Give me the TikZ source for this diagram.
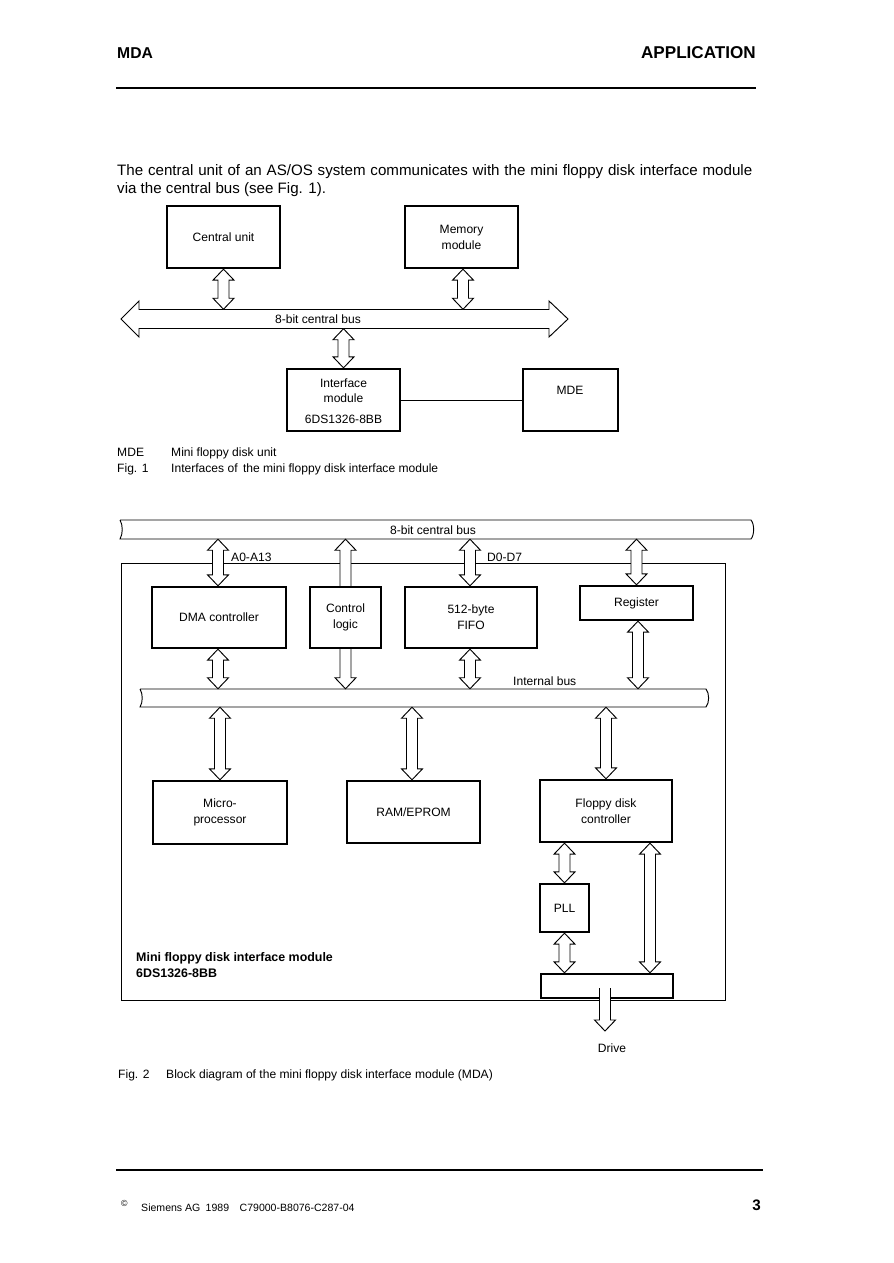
\documentclass[tikz,border=0pt]{standalone}
\usepackage{fontspec}
\setmainfont{Liberation Sans}
\usetikzlibrary{calc,fit}
\def\hw{0.315cm}\def\sw{0.165cm}\def\hl{0.33cm}
\newcommand\vdarrow[2]{\draw[arr] let \p1=#1, \p2=#2 in
 (\x1,\y1) -- (\x1-\hw,\y1-\hl) -- (\x1-\sw,\y1-\hl) -- (\x1-\sw,\y2+\hl) -- (\x1-\hw,\y2+\hl) -- (\x1,\y2) -- (\x1+\hw,\y2+\hl) -- (\x1+\sw,\y2+\hl) -- (\x1+\sw,\y1-\hl) -- (\x1+\hw,\y1-\hl) -- cycle;}
\newcommand\uparr[2]{\draw[arr] let \p1=#1, \p2=#2 in
 (\x1-\sw,\y2) -- (\x1-\sw,\y1-\hl) -- (\x1-\hw,\y1-\hl) -- (\x1,\y1) -- (\x1+\hw,\y1-\hl) -- (\x1+\sw,\y1-\hl) -- (\x1+\sw,\y2);}
\newcommand\downarr[2]{\draw[arr] let \p1=#1, \p2=#2 in
 (\x1-\sw,\y1) -- (\x1-\sw,\y2+\hl) -- (\x1-\hw,\y2+\hl) -- (\x1,\y2) -- (\x1+\hw,\y2+\hl) -- (\x1+\sw,\y2+\hl) -- (\x1+\sw,\y1);}
\newcommand\pipe[4]{% x1 x2 top bottom
 \draw[pipeline] (#1,#3) -- (#2-2,#3) .. controls (#2+1.5,#3+4) and (#2+1.5,#4-4) .. (#2-2,#4) -- (#1,#4) .. controls (#1+3,#4-5) and (#1+3,#3+5) .. (#1,#3);}
\tikzset{
 box/.style={draw, line width=2pt, inner sep=0pt},
 arr/.style={draw, line width=0.8pt, fill=white, line join=miter},
 pipeline/.style={draw, line width=0.8pt},
 txt/.style={inner sep=0pt, font=\lbl, align=center},
 ltxt/.style={inner sep=0pt, font=\lbl, anchor=base west},
 bodytxt/.style={inner sep=0pt, anchor=base west, font=\fontsize{12.9pt}{15.4pt}\selectfont},
}
\newcommand\lbl{\fontsize{10.3pt}{13.6pt}\selectfont}
\begin{document}
\begin{tikzpicture}[x=0.03cm,y=-0.03cm]
\fill[white] (0,0) rectangle (893,1263);
\useasboundingbox (0,0) rectangle (893,1263);
% header
\node[inner sep=0pt, anchor=base west, font=\fontsize{13.4pt}{15pt}\selectfont\bfseries] (hl) at (117,59) {MDA};
\node[inner sep=0pt, anchor=base east, font=\fontsize{14.6pt}{16pt}\selectfont\bfseries] (hr) at (756,58.5) {APPLICATION};
\draw[line width=1.3pt] (116,88) -- (756,88);
% body
\node[bodytxt] (b1) at (117,175.5) {\makebox[19.05cm][s]{The central unit of an AS/OS system communicates with the mini floppy disk interface module}};
\node[bodytxt] (b2) at (117,193.5) {via the central bus (see Fig. 1).};
% ---------- Fig 1
\node[box, fit={(167,206)(280,268)}] (cu) {};
\node[txt] (cut) at (cu.center) {Central unit};
\node[box, fit={(405,206)(518,268)}] (mm) {};
\node[txt] (mmt) at (mm.center) {Memory\\module};
\node[box, fit={(287,369)(400,431)}] (im) {};
\node[txt] (imt) at ([yshift=-0.03cm]im.center) {Interface\\module\\[4pt]6DS1326-8BB};
\node[box, fit={(523,369)(618,431)}] (mde) {};
\node[txt] (mdet) at (570,390) {MDE};
\node[inner sep=0pt, fit={(139,309.5)(549,328.5)}] (bus1) {};
\draw[arr] (121,319) -- (139,301) -- (139,309.5) -- (549,309.5) -- (549,301) -- (568,319) -- (549,337) -- (549,328.5) -- (139,328.5) -- (139,337) -- cycle;
\node[txt] (bus1t) at (318,319) {8-bit central bus};
\vdarrow{(cu.south)}{(cu.south |- bus1.north)}
\vdarrow{([xshift=1.5*0.03cm]mm.south)}{([xshift=1.5*0.03cm]mm.south |- bus1.north)}
\vdarrow{(im.north |- bus1.south)}{(im.north)}
\draw[line width=0.8pt] (im.east) -- (mde.west);
\node[ltxt] (lg1) at (117,456) {MDE};
\node[ltxt] (lg2) at (171,456) {Mini floppy disk unit};
\node[ltxt] (lg3) at (117,472) {Fig. 1};
\node[ltxt] (lg4) at (171,472) {Interfaces of\, the mini floppy disk interface module};
% ---------- Fig 2
\draw[line width=0.8pt] (121,563) rectangle (725,1000);
\node[inner sep=0pt, fit={(120,520)(753,539)}] (cbus) {};
\pipe{120}{753}{520}{539}
\node[txt] (cbust) at (433,530) {8-bit central bus};
\node[box, fit={(152,587)(286,648)}] (dma) {};
\node[txt] (dmat) at (dma.center) {DMA controller};
\node[box, fit={(310,587)(381,648)}] (ctl) {};
\node[txt] (ctlt) at (ctl.center) {Control\\logic};
\node[box, fit={(405,587)(537,648)}] (fifo) {};
\node[txt] (fifot) at (fifo.center) {512-byte\\FIFO};
\node[box, fit={(580,586)(693,620)}] (reg) {};
\node[txt] (regt) at (reg.center) {Register};
\node[inner sep=0pt, fit={(140,689)(708,707)}] (ibus) {};
\pipe{140}{708}{689}{707}
\node[ltxt] (ibust) at (513,685) {Internal bus};
\node[box, fit={(153,781)(287,844)}] (mp) {};
\node[txt] (mpt) at (mp.center) {Micro-\\processor};
\node[box, fit={(347,781)(480,843)}] (ram) {};
\node[txt] (ramt) at (ram.center) {RAM/EPROM};
\node[box, fit={(540,780)(672,842)}] (fdc) {};
\node[txt] (fdct) at (fdc.center) {Floppy disk\\controller};
\node[box, fit={(540,884)(589,932)}] (pll) {};
\node[txt] (pllt) at (pll.center) {PLL};
\node[box, fit={(541,974)(673,998)}] (con) {};
\coordinate (drv) at (605,1031);
\node[txt, anchor=base] (drvt) at (612,1052) {Drive};
% arrows central bus
\vdarrow{([xshift=-1*0.03cm]dma.north |- cbus.south)}{([xshift=-1*0.03cm]dma.north)}
\node[ltxt] (a013) at (231,561) {A0-A13};
\uparr{(ctl.north |- cbus.south)}{(ctl.north)}
\vdarrow{([xshift=-1*0.03cm]fifo.north |- cbus.south)}{([xshift=-1*0.03cm]fifo.north)}
\node[ltxt] (d07) at (487,561) {D0-D7};
\vdarrow{(reg.north |- cbus.south)}{(reg.north)}
% arrows to internal bus
\vdarrow{([xshift=-1*0.03cm]dma.south)}{([xshift=-1*0.03cm]dma.south |- ibus.north)}
\downarr{(ctl.south)}{(ctl.south |- ibus.north)}
\vdarrow{([xshift=-1*0.03cm]fifo.south)}{([xshift=-1*0.03cm]fifo.south |- ibus.north)}
\vdarrow{([xshift=1.5*0.03cm]reg.south)}{([xshift=1.5*0.03cm]reg.south |- ibus.north)}
\vdarrow{(mp.north |- ibus.south)}{(mp.north)}
\vdarrow{([xshift=-1.5*0.03cm]ram.north |- ibus.south)}{([xshift=-1.5*0.03cm]ram.north)}
\vdarrow{(fdc.north |- ibus.south)}{(fdc.north)}
% floppy section
\vdarrow{(pll.north |- fdc.south)}{(pll.north)}
\vdarrow{(pll.south)}{(pll.south |- con.north)}
\vdarrow{(650,842 |- fdc.south)}{(650,842 |- con.north)}
\downarr{(drv |- 0,988)}{(drv)}
% bold label
\node[inner sep=0pt, anchor=base west, font=\fontsize{10.6pt}{13.6pt}\selectfont\bfseries] (ml1) at (136,961) {Mini floppy disk interface module};
\node[inner sep=0pt, anchor=base west, font=\fontsize{10.6pt}{13.6pt}\selectfont\bfseries] (ml2) at (136,977) {6DS1326-8BB};
% caption
\node[ltxt] (c1) at (118,1078) {Fig. 2};
\node[ltxt] (c2) at (166,1078) {Block diagram of the mini floppy disk interface module (MDA)};
% footer
\draw[line width=1.3pt] (116,1170) -- (763,1170);
\node[inner sep=0pt, anchor=base west, font=\fontsize{7.5pt}{8pt}\selectfont] (copy) at (121,1206) {©};
\node[inner sep=0pt, anchor=base west, font=\fontsize{9pt}{11pt}\selectfont] (foot) at (141,1211) {Siemens AG\enspace 1989\quad C79000-B8076-C287-04};
\node[inner sep=0pt, anchor=base east, font=\fontsize{13pt}{15pt}\selectfont\bfseries] (pg) at (761,1210) {3};
\end{tikzpicture}
\end{document}
